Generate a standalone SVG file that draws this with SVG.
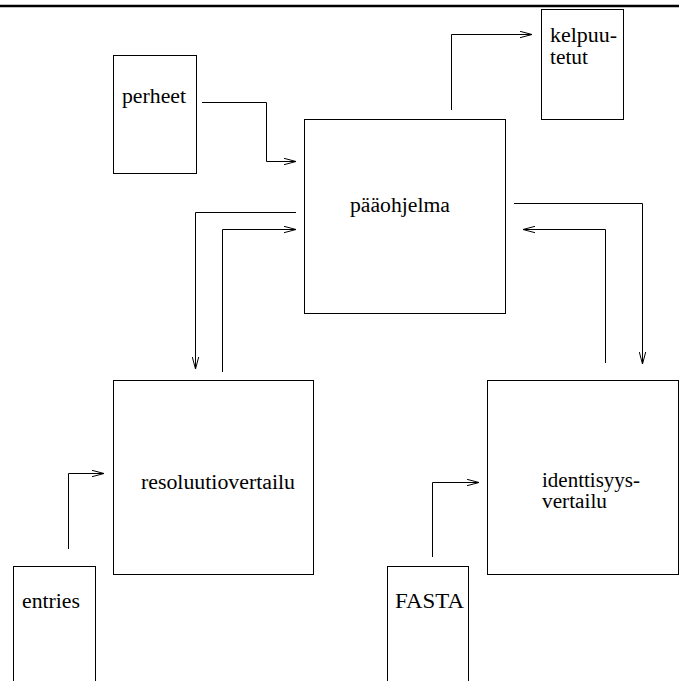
<svg xmlns="http://www.w3.org/2000/svg" width="679" height="681" viewBox="0 0 679 681">
<style>
.box{fill:none;stroke:#000;stroke-width:1}
.lbl{font-family:"Liberation Serif","Times New Roman",serif;font-size:20px;fill:#000}
.con{fill:none;stroke:#000;stroke-width:1}
</style>
<defs>
<marker id="ah" viewBox="0 0 12 8" refX="12" refY="4" markerWidth="12" markerHeight="8" markerUnits="userSpaceOnUse" orient="auto">
<polyline points="0,0.8 12,4 0,7.2" fill="none" stroke="#000" stroke-width="1"/>
</marker>
</defs>
<rect width="679" height="681" fill="#fff"/>
<line x1="0" y1="6" x2="679" y2="6" stroke="#000" stroke-width="2.5"/>
<g id="perheet"><rect class="box" x="113.5" y="55.5" width="83" height="118"/><text class="lbl" x="122" y="103" textLength="64" lengthAdjust="spacingAndGlyphs">perheet</text></g>
<g id="kelpuutetut"><rect class="box" x="541.5" y="9.5" width="82" height="110"/><text class="lbl" x="550" y="42" textLength="67" lengthAdjust="spacingAndGlyphs">kelpuu-</text><text class="lbl" x="550" y="64" textLength="38" lengthAdjust="spacingAndGlyphs">tetut</text></g>
<g id="paaohjelma"><rect class="box" x="304.5" y="119.5" width="201" height="194"/><text class="lbl" x="350" y="212" textLength="100" lengthAdjust="spacingAndGlyphs">pääohjelma</text></g>
<g id="resoluutiovertailu"><rect class="box" x="113.5" y="380.5" width="200" height="194"/><text class="lbl" x="141" y="489" textLength="154" lengthAdjust="spacingAndGlyphs">resoluutiovertailu</text></g>
<g id="identtisyysvertailu"><rect class="box" x="487.5" y="380.5" width="191" height="194"/><text class="lbl" x="542" y="487" textLength="98" lengthAdjust="spacingAndGlyphs">identtisyys-</text><text class="lbl" x="542" y="508" textLength="65" lengthAdjust="spacingAndGlyphs">vertailu</text></g>
<g id="entries"><rect class="box" x="13.5" y="566.5" width="82" height="120"/><text class="lbl" x="22" y="608" textLength="58" lengthAdjust="spacingAndGlyphs">entries</text></g>
<g id="FASTA"><rect class="box" x="387.5" y="566.5" width="81" height="120"/><text class="lbl" x="395" y="608" textLength="69" lengthAdjust="spacingAndGlyphs">FASTA</text></g>
<g id="connectors">
<polyline class="con" points="202,102.5 266.5,102.5 266.5,161.5 296,161.5" marker-end="url(#ah)"/>
<polyline class="con" points="451.5,110 451.5,34.5 532,34.5" marker-end="url(#ah)"/>
<polyline class="con" points="296,212.5 195.5,212.5 195.5,369" marker-end="url(#ah)"/>
<polyline class="con" points="222.5,372 222.5,229.5 296,229.5" marker-end="url(#ah)"/>
<polyline class="con" points="514,203.5 642.5,203.5 642.5,364" marker-end="url(#ah)"/>
<polyline class="con" points="605.5,363 605.5,229.5 523,229.5" marker-end="url(#ah)"/>
<polyline class="con" points="68.5,549 68.5,473.5 104,473.5" marker-end="url(#ah)"/>
<polyline class="con" points="432.5,557 432.5,482.5 479,482.5" marker-end="url(#ah)"/>
</g>
</svg>
